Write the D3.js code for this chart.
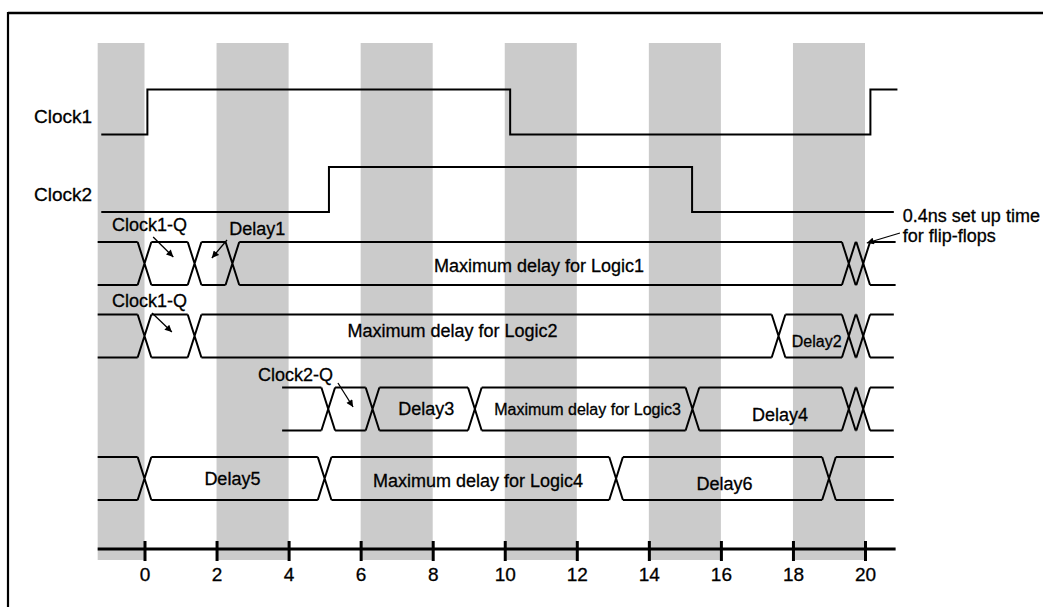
<!DOCTYPE html>
<html>
<head>
<meta charset="utf-8">
<script src="https://cdn.jsdelivr.net/npm/d3@7"></script>
<style>
  body { margin: 0; background: #fff; }
  svg text { font-family: "Liberation Sans", Arial, Helvetica, sans-serif; fill: #000; stroke: #000; stroke-width: 0.3; }
</style>
</head>
<body>
<svg id="main-svg" width="1043" height="607"></svg>
<script>
// time axis (ns)
var tickValues = [0, 2, 4, 6, 8, 10, 12, 14, 16, 18, 20];
var tickLabels = ['0', '2', '4', '6', '8', '10', '12', '14', '16', '18', '20'];
var timeStart = -1.3;
var timeEnd = 20.85;

// shaded half periods
var bandStarts = [-1.3, 2, 6, 10, 14, 18];
var bandEnds = [0, 4, 8, 12, 16, 20];

// clocks: start low, toggle at each edge
var clockNames = ['Clock1', 'Clock2'];
var clockStarts = [-1.2, -1.2];
var clockEnds = [20.9, 20.8];
var clockEdges = [[0.08, 10.15, 20.15], [5.12, 15.2]];

// data buses: transition (crossing) times
var busNames = ['Logic1', 'Logic2', 'Logic3', 'Logic4'];
var busStarts = [-1.3, -1.3, 3.82, -1.3];
var busEnds = [20.85, 20.8, 20.8, 20.8];
var busTransitions = [
    [0, 1.39, 2.44, 19.55, 19.95],
    [0, 1.39, 17.6, 19.55, 19.95],
    [5.1, 6.33, 9.17, 15.21, 19.55, 19.95],
    [0, 5.0, 13.09, 19.0]
];
var busLabels = [
    ['Maximum delay for Logic1'],
    ['Maximum delay for Logic2', 'Delay2'],
    ['Delay3', 'Maximum delay for Logic3', 'Delay4'],
    ['Delay5', 'Maximum delay for Logic4', 'Delay6']
];
var busLabelTimes = [
    [10.95],
    [8.55, 18.66],
    [7.82, 12.3, 17.64],
    [2.44, 9.26, 16.1]
];

// layout
var svg = d3.select('#main-svg');
var x = d3.scaleLinear().domain([0, 20]).range([144.5, 865]);
var rowY = d3.scaleOrdinal()
    .domain(clockNames.concat(busNames))
    .range([112, 189.5, 263.5, 336, 409, 478.5]);
var clockHalf = 22.5;
var busHalf = 21.5;
var xHalf = 0.19;
var bandTop = 43, bandBottom = 560;
var axisY = 549;

// label styling: [font size, baseline offset from row centre]
var labelStyle = [
    [[18, 8.5]],
    [[18, 1], [16, 10.5]],
    [[18, 6], [16, 6], [18, 11.5]],
    [[18, 6.5], [18, 8.5], [18, 11.5]]
];

// frame
svg.append('line')
    .attr('x1', 8).attr('x2', 1043).attr('y1', 13).attr('y2', 13)
    .attr('stroke', '#000').attr('stroke-width', 2.5);
svg.append('line')
    .attr('x1', 8).attr('x2', 8).attr('y1', 12).attr('y2', 607)
    .attr('stroke', '#000').attr('stroke-width', 2.2);

// bands
svg.append('g').attr('id', 'bands')
    .selectAll('rect')
    .data(bandStarts)
    .enter().append('rect')
    .attr('x', function(d) { return x(d); })
    .attr('y', bandTop)
    .attr('width', function(d, i) { return x(bandEnds[i]) - x(d); })
    .attr('height', bandBottom - bandTop)
    .attr('fill', '#cbcbcb');

var line = d3.line();

// clocks
var clockGroup = svg.append('g').attr('id', 'clocks');
clockNames.forEach(function(name, i) {
    var yc = rowY(name);
    var lo = yc + clockHalf, hi = yc - clockHalf;
    var level = lo;
    var pts = [[x(clockStarts[i]), level]];
    clockEdges[i].forEach(function(t) {
        pts.push([x(t), level]);
        level = (level === lo) ? hi : lo;
        pts.push([x(t), level]);
    });
    pts.push([x(clockEnds[i]), level]);

    clockGroup.append('path')
        .attr('d', line(pts))
        .attr('fill', 'none')
        .attr('stroke', '#000')
        .attr('stroke-width', 2);

    clockGroup.append('text')
        .attr('x', 34)
        .attr('y', yc + 11)
        .attr('font-size', 19)
        .text(name);
});

// buses
var busGroup = svg.append('g').attr('id', 'buses');
busNames.forEach(function(name, i) {
    var yc = rowY(name);
    var top = yc - busHalf, bot = yc + busHalf;
    var ts = busTransitions[i];
    var g = busGroup.append('g').attr('id', 'bus_' + name);

    // flat segments between crossings
    var edges = [busStarts[i]];
    ts.forEach(function(t) { edges.push(t - xHalf, t + xHalf); });
    edges.push(busEnds[i]);
    for (var k = 0; k < edges.length; k += 2) {
        [top, bot].forEach(function(yy) {
            g.append('line')
                .attr('x1', x(edges[k])).attr('x2', x(edges[k + 1]))
                .attr('y1', yy).attr('y2', yy)
                .attr('stroke', '#000').attr('stroke-width', 2);
        });
    }

    // crossings
    ts.forEach(function(t) {
        g.append('path')
            .attr('d', line([[x(t - xHalf), top], [x(t + xHalf), bot]]) +
                line([[x(t - xHalf), bot], [x(t + xHalf), top]]))
            .attr('fill', 'none')
            .attr('stroke', '#000')
            .attr('stroke-width', 2);
    });

    busLabels[i].forEach(function(txt, j) {
        g.append('text')
            .attr('x', x(busLabelTimes[i][j]))
            .attr('y', yc + labelStyle[i][j][1])
            .attr('text-anchor', 'middle')
            .attr('font-size', labelStyle[i][j][0])
            .text(txt);
    });
});

// annotations with arrows
svg.append('defs').append('marker')
    .attr('id', 'arrow')
    .attr('viewBox', '0 0 10 10')
    .attr('refX', 10).attr('refY', 5)
    .attr('markerWidth', 9).attr('markerHeight', 7)
    .attr('markerUnits', 'userSpaceOnUse')
    .attr('orient', 'auto')
    .append('path')
    .attr('d', 'M0,0L10,5L0,10Z')
    .attr('fill', '#000');

var notes = [
    { text: ['Clock1-Q'], t: -0.9, y: 231, from: [0.24, 237], to: [0.8, 257] },
    { text: ['Delay1'], t: 2.35, y: 235, from: [2.29, 240], to: [1.87, 258] },
    { text: ['Clock1-Q'], t: -0.9, y: 307, from: [0.21, 313], to: [0.76, 332] },
    { text: ['Clock2-Q'], t: 3.15, y: 381, from: [5.37, 383], to: [5.79, 407] },
    { text: ['0.4ns set up time', 'for flip-flops'], t: 21.05, y: 222, from: [20.97, 233], to: [20.05, 243] }
];
var noteGroup = svg.append('g').attr('id', 'notes');
notes.forEach(function(n) {
    n.text.forEach(function(s, k) {
        noteGroup.append('text')
            .attr('x', x(n.t))
            .attr('y', n.y + k * 20)
            .attr('font-size', 18)
            .text(s);
    });
    noteGroup.append('line')
        .attr('x1', x(n.from[0])).attr('y1', n.from[1])
        .attr('x2', x(n.to[0])).attr('y2', n.to[1])
        .attr('stroke', '#000').attr('stroke-width', 1.3)
        .attr('marker-end', 'url(#arrow)');
});

// time axis
svg.append('line')
    .attr('x1', x(timeStart)).attr('x2', x(timeEnd))
    .attr('y1', axisY).attr('y2', axisY)
    .attr('stroke', '#000').attr('stroke-width', 3);

var axis = svg.append('g')
    .attr('transform', 'translate(0,' + axisY + ')')
    .call(d3.axisBottom(x)
        .tickValues(tickValues)
        .tickFormat(function(d, i) { return tickLabels[i]; }));
axis.select('.domain').remove();
axis.selectAll('.tick line')
    .attr('y1', -8).attr('y2', 12)
    .attr('stroke', '#000').attr('stroke-width', 3);
axis.selectAll('.tick text')
    .attr('y', 32).attr('dy', 0)
    .attr('font-size', 19)
    .attr('font-family', '"Liberation Sans", Arial, Helvetica, sans-serif')
    .attr('fill', '#000');
</script>
</body>
</html>
